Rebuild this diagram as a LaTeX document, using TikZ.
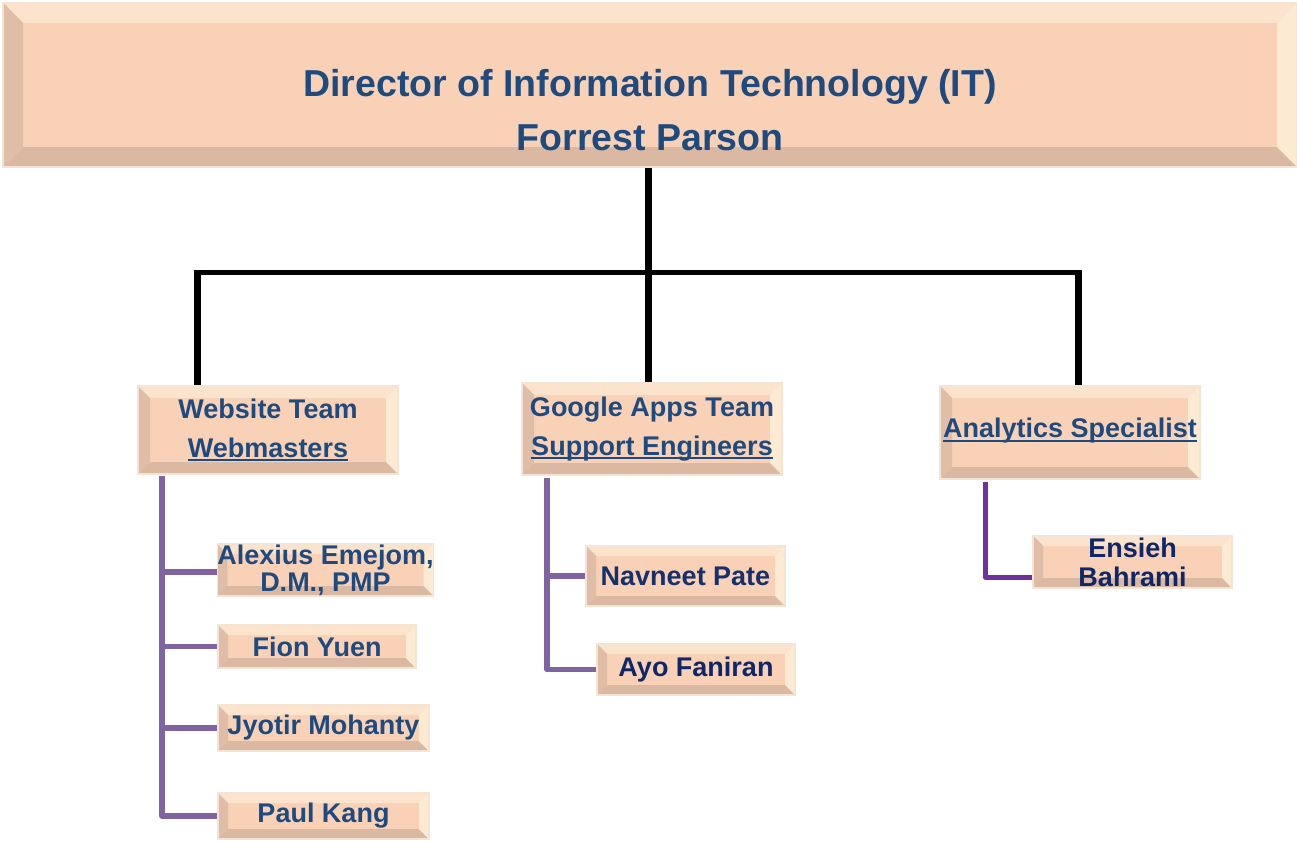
\documentclass[tikz,border=0pt]{standalone}
\usepackage{fontspec}
\setmainfont{Liberation Sans}
\usetikzlibrary{calc}
\definecolor{bmain}{HTML}{F9D1B6}
\definecolor{btop}{HTML}{FCE4CC}
\definecolor{bleft}{HTML}{E0BDA6}
\definecolor{bbot}{HTML}{DBB8A2}
\definecolor{bright}{HTML}{FDEAD3}
\definecolor{bedge}{HTML}{F4E4D4}
\definecolor{tblue}{HTML}{1F4A7E}
\definecolor{tnavy}{HTML}{15306B}
\definecolor{tdeep}{HTML}{0F2767}
\definecolor{purp}{HTML}{8064A2}
\definecolor{violet}{HTML}{7030A0}
\newcommand\myul[1]{\setbox0=\hbox{#1}\rlap{\rule[-4pt]{\wd0}{2pt}}\box0}
\tikzset{
  bevbox/.style={rectangle, fill=bmain, draw=bedge, line width=1.2pt, inner sep=0pt,
    align=center, text=tblue, font=\bfseries\fontsize{27}{39}\selectfont,
    path picture={
      \coordinate (pNW) at (path picture bounding box.north west);
      \coordinate (pNE) at (path picture bounding box.north east);
      \coordinate (pSE) at (path picture bounding box.south east);
      \coordinate (pSW) at (path picture bounding box.south west);
      \coordinate (iNW) at ($(pNW)+(#1pt,-#1pt)$);
      \coordinate (iNE) at ($(pNE)+(-#1pt,-#1pt)$);
      \coordinate (iSE) at ($(pSE)+(-#1pt,#1pt)$);
      \coordinate (iSW) at ($(pSW)+(#1pt,#1pt)$);
      \fill[btop] (pNW) -- (pNE) -- (iNE) -- (iNW) -- cycle;
      \fill[bleft] (pNW) -- (iNW) -- (iSW) -- (pSW) -- cycle;
      \fill[bbot] (pSW) -- (iSW) -- (iSE) -- (pSE) -- cycle;
      \fill[bright] (pNE) -- (pSE) -- (iSE) -- (iNE) -- cycle;
    }},
  namebox/.style={bevbox=10, font=\bfseries\fontsize{27}{27}\selectfont},
  teambox/.style={bevbox=12},
  blackline/.style={line width=7pt, black},
  purpline/.style={line width=5.5pt, purp, line join=round},
  violine/.style={line width=5pt, violet, line join=round}
}
\begin{document}
\begin{tikzpicture}[x=1pt,y=-1pt]
\useasboundingbox[fill=white] (0,0) rectangle (1297,840);

% director
\node[bevbox=20, minimum width=1294pt, minimum height=164pt] (dir) at (650,85) {};
\node[align=center, text=tblue, inner sep=0pt,
      font=\bfseries\fontsize{37.5}{54}\selectfont] (dirtext) at (650,110)
  {Director of Information Technology (IT)\\Forrest Parson};

% teams
\node[teambox, minimum width=260pt, minimum height=88pt] (web) at (268,430)
  {Website Team\\\myul{Webmasters}};
\node[teambox, minimum width=260pt, minimum height=92pt] (goog) at (652,429)
  {Google Apps Team\\\myul{Support Engineers}};
\node[teambox, minimum width=260pt, minimum height=93pt] (ana) at (1070,432.5)
  {\raisebox{9pt}{\myul{Analytics Specialist}}};

% people
\node[namebox, minimum width=215pt, minimum height=52pt] (alex) at (325.5,570)
  {Alexius Emejom,\\D.M., PMP};
\node[namebox, minimum width=198pt, minimum height=43pt] (fion) at (317,646.5)
  {Fion Yuen};
\node[namebox, minimum width=211pt, minimum height=46pt] (jyo) at (323.5,728)
  {Jyotir Mohanty};
\node[namebox, minimum width=211pt, minimum height=46pt] (paul) at (323.5,816)
  {Paul Kang};
\node[namebox, minimum width=199pt, minimum height=60pt, text=tnavy] (nav) at (685.5,576)
  {Navneet Pate};
\node[namebox, minimum width=198pt, minimum height=51pt, text=tdeep] (ayo) at (696,669.5)
  {Ayo Faniran};
\node[namebox, minimum width=199pt, minimum height=52pt, text=tdeep,
      font=\bfseries\fontsize{27}{29}\selectfont] (ens) at (1132.5,562)
  {Ensieh\\Bahrami};

% black connectors
\coordinate (jl) at (197,272);
\coordinate (jm) at (648,272);
\coordinate (jr) at (1078,272);
\draw[blackline] (jm |- dir.south) -- (jm |- goog.north);
\draw[line width=5pt] (jl) -- (jr);
\draw[blackline] ([yshift=2.5pt]jl) -- (jl |- web.north);
\draw[blackline] ([yshift=2.5pt]jr) -- (jr |- ana.north);

% purple connectors
\coordinate (wb) at (162,476);
\draw[purpline] (wb) |- (paul.west);
\draw[purpline] ($(wb |- alex.west)+(0,-2pt)$) -- ($(alex.west)+(0,-2pt)$);
\draw[purpline] (wb |- fion.west) -- (fion.west);
\draw[purpline] (wb |- jyo.west) -- (jyo.west);

\coordinate (gb) at (547,478);
\draw[purpline] (gb) |- (ayo.west);
\draw[purpline] (gb |- nav.west) -- (nav.west);

\coordinate (ab) at (985,482);
\coordinate (ae) at ($(ens.west)+(0,-15pt)$);
\draw[violine] (ab) |- (ae);
\end{tikzpicture}
\end{document}
